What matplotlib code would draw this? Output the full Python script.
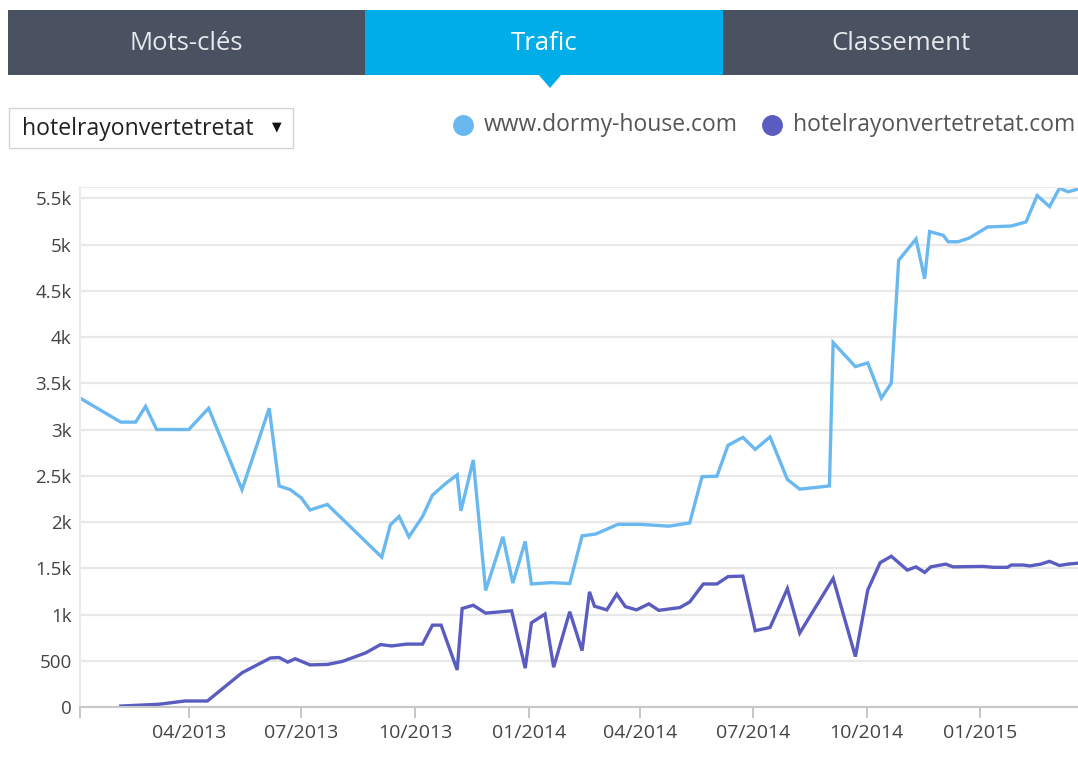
import pandas as pd
import matplotlib.pyplot as plt
import matplotlib.dates as mdates
from matplotlib.patches import Rectangle, Polygon
from matplotlib.ticker import FuncFormatter

# Daten
dormy_dates = ['2013-01-03', '2013-02-05', '2013-02-17', '2013-02-25', '2013-03-06',
               '2013-04-01', '2013-04-17', '2013-05-14', '2013-06-05', '2013-06-13',
               '2013-06-22', '2013-07-01', '2013-07-08', '2013-07-22', '2013-09-04',
               '2013-09-11', '2013-09-18', '2013-09-26', '2013-10-07', '2013-10-15',
               '2013-10-26', '2013-11-04', '2013-11-07', '2013-11-17', '2013-11-27',
               '2013-12-11', '2013-12-19', '2013-12-29', '2014-01-03', '2014-01-19',
               '2014-02-03', '2014-02-13', '2014-02-24', '2014-03-14', '2014-04-01',
               '2014-04-24', '2014-05-11', '2014-05-21', '2014-06-02', '2014-06-11',
               '2014-06-23', '2014-07-03', '2014-07-15', '2014-07-29', '2014-08-08',
               '2014-09-01', '2014-09-04', '2014-09-22', '2014-10-02', '2014-10-13',
               '2014-10-21', '2014-10-27', '2014-11-10', '2014-11-17', '2014-11-21',
               '2014-12-02', '2014-12-06', '2014-12-14', '2014-12-23', '2015-01-07',
               '2015-01-26', '2015-02-07', '2015-02-16', '2015-02-26', '2015-03-06',
               '2015-03-13', '2015-03-21']
dormy_values = [3340, 3080, 3080, 3250, 3000,
                3000, 3230, 2350, 3230, 2390,
                2350, 2260, 2130, 2190, 1620,
                1970, 2060, 1840, 2060, 2290,
                2420, 2510, 2120, 2670, 1260,
                1840, 1340, 1790, 1330, 1345,
                1335, 1850, 1870, 1975, 1975,
                1955, 1990, 2490, 2495, 2830,
                2915, 2785, 2920, 2460, 2355,
                2390, 3940, 3680, 3720, 3340,
                3500, 4830, 5060, 4630, 5140,
                5100, 5030, 5030, 5070, 5190,
                5200, 5245, 5530, 5410, 5610,
                5570, 5600]

hotel_dates = ['2013-02-05', '2013-03-08', '2013-03-29', '2013-04-16', '2013-05-14',
               '2013-06-06', '2013-06-13', '2013-06-20', '2013-06-26', '2013-07-08',
               '2013-07-22', '2013-08-03', '2013-08-22', '2013-09-03', '2013-09-12',
               '2013-09-24', '2013-10-07', '2013-10-15', '2013-10-22', '2013-11-04',
               '2013-11-08', '2013-11-17', '2013-11-27', '2013-12-18', '2013-12-29',
               '2014-01-03', '2014-01-14', '2014-01-21', '2014-02-03', '2014-02-13',
               '2014-02-19', '2014-02-23', '2014-03-05', '2014-03-13', '2014-03-20',
               '2014-03-29', '2014-04-08', '2014-04-16', '2014-05-03', '2014-05-11',
               '2014-05-22', '2014-06-02', '2014-06-11', '2014-06-23', '2014-07-03',
               '2014-07-15', '2014-07-29', '2014-08-08', '2014-09-04', '2014-09-22',
               '2014-10-02', '2014-10-12', '2014-10-21', '2014-11-03', '2014-11-10',
               '2014-11-17', '2014-11-22', '2014-12-04', '2014-12-10', '2015-01-03',
               '2015-01-12', '2015-01-23', '2015-01-26', '2015-02-05', '2015-02-10',
               '2015-02-19', '2015-02-26', '2015-03-06', '2015-03-13', '2015-03-21']
hotel_values = [10, 30, 65, 65, 370,
                530, 535, 485, 522, 455,
                460, 492, 585, 675, 660,
                680, 680, 885, 885, 400,
                1065, 1100, 1015, 1040, 420,
                910, 1005, 430, 1030, 610,
                1245, 1090, 1050, 1220, 1085,
                1050, 1115, 1045, 1075, 1135,
                1330, 1330, 1410, 1415, 825,
                860, 1280, 800, 1390, 545,
                1265, 1560, 1630, 1480, 1515,
                1455, 1515, 1545, 1515, 1520,
                1510, 1510, 1535, 1535, 1525,
                1545, 1575, 1530, 1545, 1555]

tabs = ['Mots-clés', 'Trafic', 'Classement']
series_names = ['www.dormy-house.com', 'hotelrayonvertetretat.com']
dropdown_text = 'hotelrayonvertetretat'
y_ticks = [0, 500, 1000, 1500, 2000, 2500, 3000, 3500, 4000, 4500, 5000, 5500]
x_ticks = ['2013-04-01', '2013-07-01', '2013-10-01', '2014-01-01', '2014-04-01',
           '2014-07-01', '2014-10-01', '2015-01-01']

c_light = '#6ab8f0'
c_dark = '#5a5cbf'
c_tab = '#4a5261'
c_tab_act = '#00ade9'
font = 'Open Sans'

W, H = 1078, 760
fig = plt.figure(figsize=(W / 100, H / 100), dpi=100)
fig.patch.set_facecolor('white')

# --- Kopfbereich (Pixelkoordinaten) ---
head = fig.add_axes([0, 0, 1, 1])
head.set_xlim(0, W)
head.set_ylim(H, 0)
head.axis('off')

tab_edges = [8, 365, 723, W]
tab_centers = [186, 544, 901]
for i, name in enumerate(tabs):
    x0, x1 = tab_edges[i], tab_edges[i + 1]
    col = c_tab_act if i == 1 else c_tab
    head.add_patch(Rectangle((x0, 10), x1 - x0, 65, color=col, lw=0))
    head.text(tab_centers[i], 44, name, ha='center', va='center',
              color='white' if i == 1 else '#e6e8eb', fontsize=18.5, family=font)
head.add_patch(Polygon([[538, 74], [562, 74], [550, 88]], closed=True, color=c_tab_act, lw=0))

# Auswahlfeld
head.add_patch(Rectangle((8.5, 108), 284, 40, facecolor='white', edgecolor='#d4d4d4', lw=1))
head.text(22, 129, dropdown_text, ha='left', va='center', fontsize=16.6, color='#222', family=font)
head.text(277, 127, '▼', ha='center', va='center', fontsize=9, color='#111', family='DejaVu Sans')

legend_x = [463, 772]
for x, name, col in zip(legend_x, series_names, [c_light, c_dark]):
    head.plot([x], [125], 'o', ms=14, color=col)
    head.text(x + 21, 125, name, ha='left', va='center', fontsize=16.5, color='#555', family=font)

# --- Diagramm ---
ax = fig.add_axes([80 / W, (H - 707) / H, (W - 80) / W, (707 - 187) / H])
ax.plot(pd.to_datetime(dormy_dates), dormy_values, color=c_light, lw=2.4, solid_joinstyle='miter')
ax.plot(pd.to_datetime(hotel_dates), hotel_values, color=c_dark, lw=2.4, solid_joinstyle='miter')

ax.set_xlim(pd.Timestamp('2013-01-03'), pd.Timestamp('2015-03-21'))
ax.set_ylim(0, 5622)
ax.set_yticks(y_ticks)
ax.yaxis.set_major_formatter(FuncFormatter(
    lambda v, p: '0' if v == 0 else (f'{v / 1000:g}k' if v >= 1000 else f'{v:g}')))
ax.set_xticks(pd.to_datetime(x_ticks))
ax.xaxis.set_major_formatter(mdates.DateFormatter('%m/%Y'))
ax.set_xticks([pd.Timestamp('2013-01-03')], minor=True)

ax.grid(axis='y', color='#e8e8e8', lw=1.6)
ax.set_axisbelow(True)
for s in ['top', 'right']:
    ax.spines[s].set_visible(False)
ax.spines['left'].set_color('#ececec')
ax.spines['left'].set_linewidth(1.5)
ax.spines['bottom'].set_color('#c8c8c8')
ax.spines['bottom'].set_linewidth(1.5)
ax.axhline(5622, color='#ececec', lw=1.5)

ax.tick_params(axis='y', length=0, pad=6, labelsize=13.5, labelcolor='#444')
ax.tick_params(axis='x', which='both', length=8, width=1.2, color='#bbb',
               pad=4, labelsize=14, labelcolor='#444')
for lab in ax.get_xticklabels() + ax.get_yticklabels():
    lab.set_family(font)

plt.savefig('out.png', dpi=100)
